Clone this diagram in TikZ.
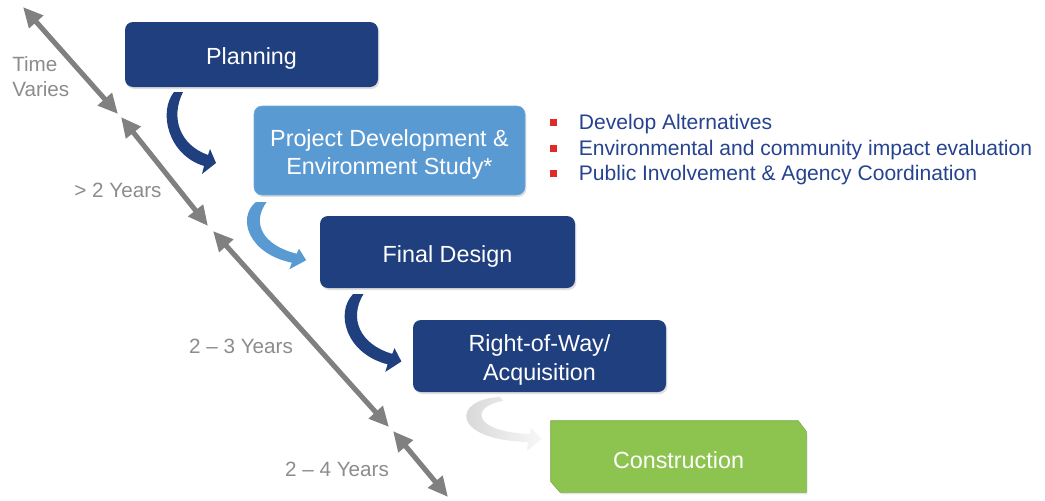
\documentclass[tikz,border=0pt]{standalone}
\usepackage{fontspec}
\setmainfont{Liberation Sans}
\usetikzlibrary{arrows.meta,shadows}
\definecolor{darkbox}{HTML}{203F7F}
\definecolor{lightbox}{HTML}{5A9AD3}
\definecolor{greenbox}{HTML}{8DC44F}
\definecolor{timegray}{HTML}{808080}
\definecolor{labelgray}{HTML}{8C8C8C}
\definecolor{bullettext}{HTML}{26438F}
\definecolor{bulletred}{HTML}{E02A2A}
\tikzset{
  stagebox/.style={rectangle, rounded corners=6pt, inner sep=0pt,
    drop shadow={opacity=0.25, shadow xshift=1pt, shadow yshift=-1.5pt}},
  stagetext/.style={inner sep=0pt, text=white, yshift=-3pt,
    font=\fontsize{17.5}{21.5}\selectfont, align=center},
  timeline/.style={draw=timegray, line width=3.8pt,
    {Triangle[length=15pt,width=13.5pt]}-{Triangle[length=15pt,width=13.5pt]}},
  timelabel/.style={text=labelgray, font=\fontsize{15.5}{19}\selectfont, inner sep=0pt},
  bulletitem/.style={anchor=base west, inner sep=0pt, text=bullettext, font=\fontsize{15.8}{19}\selectfont},
  pics/bendarrow/.style={code={
    \fill[#1] (-6,0) .. controls (-22,20) and (-12,63) .. (24,74) -- (22,82) -- (36,71) -- (30,57) -- (28,63) .. controls (0,53) and (-10,26) .. (3,0) -- cycle;
  }}
}
\newcommand{\redsq}{\makebox[21.5pt][l]{\textcolor{bulletred}{\rule[2.5pt]{5pt}{5pt}}}}
\begin{document}
\begin{tikzpicture}[x=0.75pt,y=-0.75pt]
\useasboundingbox (0,0) rectangle (1045,500);

% stage boxes
\node[stagebox, fill=darkbox, minimum width=253*0.75pt, minimum height=65*0.75pt] (plan) at (251.5,54.5) {};
\node[stagebox, fill=lightbox, draw=lightbox!85!white, minimum width=271*0.75pt, minimum height=89*0.75pt] (pd) at (389.5,150.5) {};
\node[stagebox, fill=darkbox, minimum width=255*0.75pt, minimum height=72*0.75pt] (fd) at (447.5,252) {};
\node[stagebox, fill=darkbox, minimum width=253*0.75pt, minimum height=72*0.75pt] (row) at (539.5,356) {};
\node[inner sep=0pt, minimum width=255*0.75pt, minimum height=71*0.75pt] (con) at (678.5,456.5) {};
\fill[greenbox, draw=greenbox!85!black, line width=0.4pt,
  drop shadow={opacity=0.2, shadow xshift=1pt, shadow yshift=-1.5pt}]
  (con.north west) -- ([xshift=-6pt]con.north east) -- ([yshift=-8pt]con.north east)
  -- (con.south east) -- ([xshift=7pt]con.south west) -- ([yshift=8pt]con.south west) -- cycle;

\node[stagetext] (plan-t) at (plan.center) {Planning};
\node[stagetext] (pd-t) at (pd.center) {Project Development \&\\Environment Study*};
\node[stagetext] (fd-t) at (fd.center) {Final Design};
\node[stagetext] (row-t) at (row.center) {Right-of-Way/\\Acquisition};
\node[stagetext] (con-t) at (con.center) {Construction};

% curved transition arrows
\pic at (180,92) {bendarrow={darkbox}};
\pic[xscale=1.2, yscale=0.82] at (263,202) {bendarrow={lightbox}};
\pic[xscale=1.15, yscale=0.95] at (360,294) {bendarrow={darkbox}};
\shade[left color=gray!35, right color=gray!6] (500,397) .. controls (452,399) and (450,440) .. (528,442) -- (527,451) -- (542,439) -- (531,428) -- (530,434) .. controls (472,432) and (470,406) .. (503,401) -- cycle;

% time line
\coordinate (t0) at (23,7);
\coordinate (t1) at (118,114);
\coordinate (t2) at (121,117);
\coordinate (t3) at (208,226);
\coordinate (t4) at (213,231);
\coordinate (t5) at (389,427);
\coordinate (t6) at (393,431);
\coordinate (t7) at (448,497);
\draw[timeline] (t0) -- (t1);
\draw[timeline] (t2) -- (t3);
\draw[timeline] (t4) -- (t5);
\draw[timeline] (t6) -- (t7);

\node[timelabel, anchor=west, align=left, font=\fontsize{15.5}{18.75}\selectfont] (l0) at (12,77) {Time\\Varies};
\node[timelabel] (l1) at (118,190) {> 2 Years};
\node[timelabel] (l2) at (241,346) {2 – 3 Years};
\node[timelabel] (l3) at (337,469) {2 – 4 Years};

% bullet list
\node[bulletitem] (b1) at (550,129) {\redsq Develop Alternatives};
\node[bulletitem] (b2) at (550,155) {\redsq Environmental and community impact evaluation};
\node[bulletitem] (b3) at (550,180) {\redsq Public Involvement \& Agency Coordination};
\end{tikzpicture}
\end{document}
